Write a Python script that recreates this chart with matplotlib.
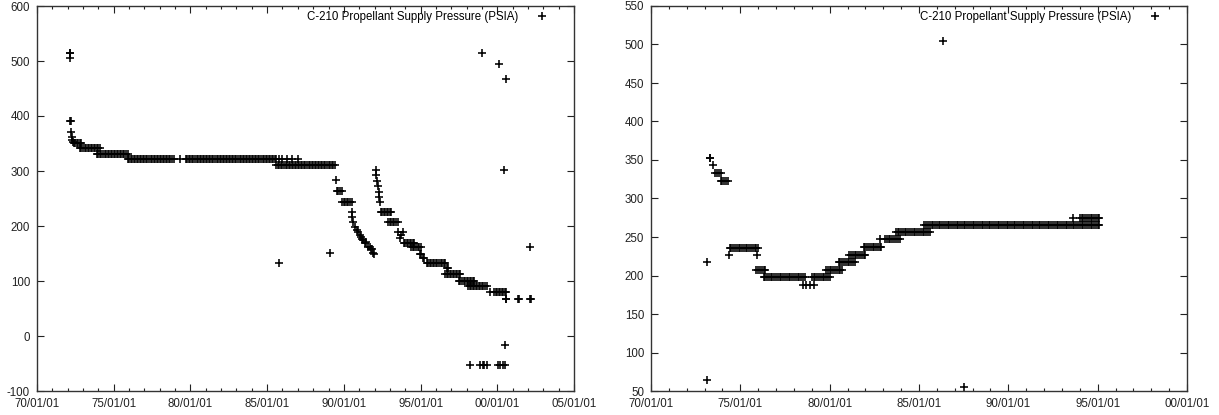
import numpy as np
import matplotlib
matplotlib.use("Agg")
import matplotlib.pyplot as plt
from matplotlib.ticker import MultipleLocator

plt.rcParams['font.family'] = ['Liberation Sans', 'DejaVu Sans']
plt.rcParams['axes.unicode_minus'] = False

LABEL = "C-210 Propellant Supply Pressure (PSIA)"

# ---------------- left panel data (decimal years, PSIA) ----------------
# plateaus: one PSIA level read on many dates
left_step_psia = [350, 341, 331, 321, 311, 264, 244, 225, 207, 170, 161,
                  132, 112, 100, 91, 80, 68, -53]
left_step_dates = [
    [1972.4, 1972.5, 1972.6, 1972.7, 1972.8, 1972.9],
    [1972.8, 1972.9, 1973.0, 1973.1, 1973.2, 1973.3, 1973.4, 1973.5, 1973.6,
     1973.7, 1973.8, 1973.9, 1974.0, 1974.1],
    [1973.9, 1974.0, 1974.1, 1974.2, 1974.3, 1974.4, 1974.5, 1974.6, 1974.7,
     1974.8, 1974.9, 1975.0, 1975.1, 1975.2, 1975.3, 1975.4, 1975.5, 1975.6,
     1975.7, 1975.8, 1975.9],
    [1975.9,
     1976.0, 1976.1, 1976.2, 1976.3, 1976.4, 1976.5, 1976.6, 1976.7, 1976.8, 1976.9,
     1977.0, 1977.1, 1977.2, 1977.3, 1977.4, 1977.5, 1977.6, 1977.7, 1977.8, 1977.9,
     1978.0, 1978.1, 1978.2, 1978.3, 1978.4, 1978.5, 1978.6, 1978.7, 1978.8, 1978.9,
     1979.3, 1979.7, 1979.8, 1979.9,
     1980.0, 1980.1, 1980.2, 1980.3, 1980.4, 1980.5, 1980.6, 1980.7, 1980.8, 1980.9,
     1981.0, 1981.1, 1981.2, 1981.3, 1981.4, 1981.5, 1981.6, 1981.7, 1981.8, 1981.9,
     1982.0, 1982.1, 1982.2, 1982.3, 1982.4, 1982.5, 1982.6, 1982.7, 1982.8, 1982.9,
     1983.0, 1983.1, 1983.2, 1983.3, 1983.4, 1983.5, 1983.6, 1983.7, 1983.8, 1983.9,
     1984.0, 1984.1, 1984.2, 1984.3, 1984.4, 1984.5, 1984.6, 1984.7, 1984.8, 1984.9,
     1985.0, 1985.1, 1985.2, 1985.3, 1985.4, 1985.5, 1985.6,
     1985.8, 1986.0, 1986.3, 1986.6, 1987.0],
    [1985.6, 1985.7, 1985.8, 1985.9,
     1986.0, 1986.1, 1986.2, 1986.3, 1986.4, 1986.5, 1986.6, 1986.7, 1986.8, 1986.9,
     1987.0, 1987.1, 1987.2, 1987.3, 1987.4, 1987.5, 1987.6, 1987.7, 1987.8, 1987.9,
     1988.0, 1988.1, 1988.2, 1988.3, 1988.4, 1988.5, 1988.6, 1988.7, 1988.8, 1988.9,
     1989.0, 1989.1, 1989.2, 1989.3, 1989.4],
    [1989.55, 1989.65, 1989.75, 1989.85],
    [1989.9, 1990.0, 1990.1, 1990.2, 1990.3, 1990.4, 1990.5],
    [1992.4, 1992.5, 1992.6, 1992.7, 1992.8, 1992.9, 1993.0, 1993.1],
    [1992.9, 1993.0, 1993.1, 1993.2, 1993.3, 1993.4, 1993.5],
    [1993.9, 1994.0, 1994.1, 1994.2, 1994.3, 1994.4, 1994.5, 1994.6],
    [1994.4, 1994.5, 1994.6, 1994.7, 1994.8, 1994.9, 1995.0],
    [1995.4, 1995.5, 1995.6, 1995.7, 1995.8, 1995.9, 1996.0, 1996.1, 1996.2,
     1996.3, 1996.4, 1996.5, 1996.6],
    [1996.6, 1996.7, 1996.8, 1996.9, 1997.0, 1997.1, 1997.2, 1997.3, 1997.4,
     1997.5, 1997.6],
    [1997.5, 1997.6, 1997.7, 1997.8, 1997.9, 1998.0, 1998.1, 1998.2, 1998.3,
     1998.4, 1998.5],
    [1998.1, 1998.2, 1998.3, 1998.4, 1998.5, 1998.6, 1998.7, 1998.8, 1998.9,
     1999.0, 1999.1, 1999.2, 1999.3],
    [1999.5, 1999.8, 1999.9, 2000.0, 2000.1, 2000.2, 2000.3, 2000.4, 2000.5, 2000.6],
    [2000.55, 2000.6, 2001.35, 2001.4, 2002.15, 2002.2],
    [1998.23, 1998.88, 1999.05, 1999.15, 1999.32, 2000.07, 2000.2, 2000.35, 2000.5],
]

# single readings
left_single_dates = [1972.15, 1972.17, 1972.15, 1972.18, 1972.22, 1972.2, 1972.25,
                     1972.3, 1972.35, 1985.8, 1989.1, 1989.47,
                     1990.5, 1990.55, 1990.62, 1990.73, 1990.85, 1990.95, 1991.05,
                     1991.12, 1991.2, 1991.28, 1991.38, 1991.45, 1991.6, 1991.68,
                     1991.75, 1991.85, 1991.92, 1991.95,
                     1992.08, 1992.1, 1992.13, 1992.22, 1992.28, 1992.32, 1992.38,
                     1993.55, 1993.66, 1993.75, 1993.87, 1994.97, 1995.05, 1995.18,
                     1995.25, 1996.7, 1996.8,
                     1999.03, 2000.1, 2000.57, 2000.46, 2000.5, 2002.14]
left_single_psia = [514, 514, 505, 390, 390, 371, 362,
                    356, 352, 133, 151, 283,
                    226, 217, 208, 198, 192, 190, 184,
                    180, 177, 174, 169, 171, 162, 161,
                    158, 158, 151, 150,
                    302, 293, 282, 273, 262, 253, 243,
                    190, 179, 184, 190, 150, 150, 142,
                    142, 123, 123,
                    514, 494, 467, 302, -17, 161]

# ---------------- right panel data ----------------
right_step_psia = [333, 323, 236, 207, 198, 188, 198, 207, 217, 227, 237, 247,
                   256, 266, 275]
right_step_dates = [
    [1973.6, 1973.7, 1973.8, 1973.9],
    [1973.9, 1974.0, 1974.1, 1974.2, 1974.3],
    [1974.4, 1974.5, 1974.6, 1974.7, 1974.8, 1974.9, 1975.0, 1975.1, 1975.2,
     1975.3, 1975.4, 1975.5, 1975.6, 1975.7, 1975.8, 1975.9, 1976.0],
    [1975.9, 1976.0, 1976.1, 1976.2, 1976.3, 1976.4],
    [1976.3, 1976.4, 1976.5, 1976.6, 1976.7, 1976.8, 1976.9,
     1977.0, 1977.1, 1977.2, 1977.3, 1977.4, 1977.5, 1977.6, 1977.7, 1977.8, 1977.9,
     1978.0, 1978.1, 1978.2, 1978.3, 1978.4, 1978.5, 1978.6],
    [1978.5, 1978.7, 1978.9, 1979.15],
    [1979.0, 1979.1, 1979.2, 1979.3, 1979.4, 1979.5, 1979.6, 1979.7, 1979.8,
     1979.9, 1980.0],
    [1979.8, 1979.9, 1980.0, 1980.1, 1980.2, 1980.3, 1980.4, 1980.5, 1980.6, 1980.7],
    [1980.5, 1980.6, 1980.7, 1980.8, 1980.9, 1981.0, 1981.1, 1981.2, 1981.3, 1981.4],
    [1981.1, 1981.2, 1981.3, 1981.4, 1981.5, 1981.6, 1981.7, 1981.8, 1981.9, 1982.0],
    [1981.9, 1982.0, 1982.1, 1982.2, 1982.3, 1982.4, 1982.5, 1982.6, 1982.7,
     1982.8, 1982.9],
    [1982.8, 1983.1, 1983.2, 1983.3, 1983.4, 1983.5, 1983.6, 1983.7, 1983.85, 1983.95],
    [1983.7, 1983.8, 1983.9,
     1984.0, 1984.1, 1984.2, 1984.3, 1984.4, 1984.5, 1984.6, 1984.7, 1984.8, 1984.9,
     1985.0, 1985.1, 1985.2, 1985.3, 1985.4, 1985.5, 1985.6],
    [1985.3, 1985.4, 1985.5, 1985.6, 1985.7, 1985.8, 1985.9,
     1986.0, 1986.1, 1986.2, 1986.3, 1986.4, 1986.5, 1986.6, 1986.7, 1986.8, 1986.9,
     1987.0, 1987.1, 1987.2, 1987.3, 1987.4, 1987.5, 1987.6, 1987.7, 1987.8, 1987.9,
     1988.0, 1988.1, 1988.2, 1988.3, 1988.4, 1988.5, 1988.6, 1988.7, 1988.8, 1988.9,
     1989.0, 1989.1, 1989.2, 1989.3, 1989.4, 1989.5, 1989.6, 1989.7, 1989.8, 1989.9,
     1990.0, 1990.1, 1990.2, 1990.3, 1990.4, 1990.5, 1990.6, 1990.7, 1990.8, 1990.9,
     1991.0, 1991.1, 1991.2, 1991.3, 1991.4, 1991.5, 1991.6, 1991.7, 1991.8, 1991.9,
     1992.0, 1992.1, 1992.2, 1992.3, 1992.4, 1992.5, 1992.6, 1992.7, 1992.8, 1992.9,
     1993.0, 1993.1, 1993.2, 1993.3, 1993.4, 1993.5, 1993.6, 1993.7, 1993.8, 1993.9,
     1994.0, 1994.1, 1994.2, 1994.3, 1994.4, 1994.5, 1994.6, 1994.7, 1994.8, 1994.9,
     1995.0, 1995.1],
    [1993.6, 1994.0, 1994.1, 1994.2, 1994.3, 1994.4, 1994.5, 1994.6, 1994.7,
     1994.8, 1994.9, 1995.0, 1995.1],
]

right_single_dates = [1973.15, 1973.15, 1973.28, 1973.32, 1973.45, 1974.36,
                      1975.95, 1986.33, 1987.54]
right_single_psia = [217, 64, 352, 352, 343, 226, 226, 504, 55]


def flatten(step_dates, step_psia, single_dates, single_psia):
    t = list(single_dates)
    p = list(single_psia)
    for dates, v in zip(step_dates, step_psia):
        t += dates
        p += [v] * len(dates)
    return np.array(t), np.array(p)


def style_axes(ax, xmax, ylim, ystep):
    ax.set_xlim(1970, xmax)
    ax.set_ylim(*ylim)
    years = list(range(1970, xmax + 1, 5))
    ax.set_xticks(years)
    ax.set_xticklabels(["%02d/01/01" % (y % 100) for y in years])
    ax.xaxis.set_minor_locator(MultipleLocator(1))
    ax.set_yticks(np.arange(ylim[0], ylim[1] + 1, ystep))
    ax.tick_params(which='both', direction='in', top=True, right=True,
                   labelsize=8.3, colors='#222222', width=0.8)
    ax.tick_params(which='major', length=5)
    ax.tick_params(which='minor', length=2.5)
    ax.tick_params(axis='x', pad=5)
    ax.tick_params(axis='y', pad=5)
    for s in ax.spines.values():
        s.set_linewidth(1.0)
        s.set_color('#333333')


fig = plt.figure(figsize=(12.19, 4.15), dpi=100)
ax1 = fig.add_axes([37 / 1219, 24 / 415, 537 / 1219, 385 / 415])
ax2 = fig.add_axes([651 / 1219, 24 / 415, 536 / 1219, 385 / 415])

tl, pl = flatten(left_step_dates, left_step_psia, left_single_dates, left_single_psia)
tr, pr = flatten(right_step_dates, right_step_psia, right_single_dates, right_single_psia)

for ax, t, p in [(ax1, tl, pl), (ax2, tr, pr)]:
    ax.plot(t, p, '+', color='black', ms=5.5, mew=1.15, ls='none', label=LABEL)

style_axes(ax1, 2005, (-100, 600), 100)
style_axes(ax2, 2000, (50, 550), 50)

for ax in (ax1, ax2):
    ax.legend(loc='upper right', bbox_to_anchor=(0.962, 0.987), markerfirst=False,
              frameon=False, handlelength=2, handletextpad=1.1, borderpad=0,
              borderaxespad=0, fontsize=8.3)

fig.savefig("out.png", dpi=100)
